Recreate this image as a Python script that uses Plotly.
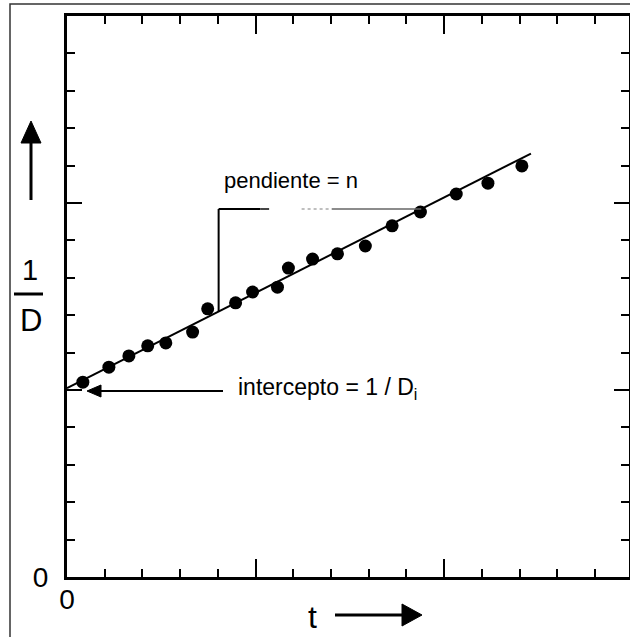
import plotly.graph_objects as go

# ---- data (arbitrary units: one minor tick = 1) ----
t_vals = [0.42, 1.11, 1.64, 2.14, 2.62, 3.33, 3.73, 4.47, 4.92, 5.58,
          5.87, 6.51, 7.17, 7.91, 8.62, 9.37, 10.32, 11.16, 12.06]
invD_vals = [5.21, 5.61, 5.91, 6.18, 6.26, 6.55, 7.17, 7.33, 7.62, 7.75,
             8.26, 8.50, 8.64, 8.85, 9.39, 9.76, 10.24, 10.53, 10.99]
fit_intercept = 5.05
fit_slope = 0.51
fit_t = [0.0, 12.3]
fit_y = [fit_intercept + fit_slope * t for t in fit_t]

x_major = [0, 5, 10, 15]
x_major_text = ["0", "", "", ""]
y_major = [0, 5, 10, 15]
y_major_text = ["0", "", "", ""]

slope_t0 = 4.02
slope_top = 9.84

W, H = 630, 637
ML, MR, MT, MB = 67, 1, 16, 60
PW, PH = W - ML - MR, H - MT - MB

def px(x):  # pixel -> paper x
    return (x - ML) / PW

def py(y):  # pixel -> paper y
    return (H - MB - y) / PH

fig = go.Figure()
fig.add_trace(go.Scatter(x=fit_t, y=fit_y, mode="lines",
                         line=dict(color="black", width=2), showlegend=False))
fig.add_trace(go.Scatter(x=t_vals, y=invD_vals, mode="markers",
                         marker=dict(color="black", size=13), showlegend=False))

shapes = []
# slope construction lines
y_at_t0 = fit_intercept + fit_slope * slope_t0
t_hit = (slope_top - fit_intercept) / fit_slope
shapes.append(dict(type="line", xref="x", yref="y", x0=slope_t0, x1=slope_t0,
                   y0=y_at_t0, y1=slope_top, line=dict(color="black", width=2)))
shapes.append(dict(type="line", xref="x", yref="y", x0=slope_t0, x1=slope_t0 + 1.1,
                   y0=slope_top, y1=slope_top, line=dict(color="black", width=2)))
shapes.append(dict(type="line", xref="x", yref="y", x0=slope_t0 + 1.1, x1=slope_t0 + 1.5,
                   y0=slope_top, y1=slope_top, line=dict(color="#444", width=2, dash="dash")))
shapes.append(dict(type="line", xref="x", yref="y", x0=slope_t0 + 2.2, x1=slope_t0 + 3.0,
                   y0=slope_top, y1=slope_top, line=dict(color="#aaa", width=1.5, dash="dot")))
shapes.append(dict(type="line", xref="x", yref="y", x0=slope_t0 + 3.0, x1=t_hit,
                   y0=slope_top, y1=slope_top, line=dict(color="#666", width=1.5)))

# intercept arrow (pixel-placed annotation graphics)
shapes.append(dict(type="line", xref="paper", yref="paper", x0=px(98), x1=px(223),
                   y0=py(391), y1=py(391), line=dict(color="black", width=2)))
shapes.append(dict(type="path", xref="paper", yref="paper",
                   path=f"M {px(87)} {py(391)} L {px(101)} {py(385)} L {px(101)} {py(397)} Z",
                   fillcolor="black", line=dict(color="black", width=1)))

# y axis title arrow (up)
shapes.append(dict(type="line", xref="paper", yref="paper", x0=px(31), x1=px(31),
                   y0=py(200), y1=py(140), line=dict(color="black", width=3)))
shapes.append(dict(type="path", xref="paper", yref="paper",
                   path=f"M {px(31)} {py(121)} L {px(21)} {py(143)} L {px(41)} {py(143)} Z",
                   fillcolor="black", line=dict(color="black", width=1)))
# fraction bar
shapes.append(dict(type="line", xref="paper", yref="paper", x0=px(14), x1=px(43),
                   y0=py(294), y1=py(294), line=dict(color="black", width=3)))

# x axis title arrow (right)
shapes.append(dict(type="line", xref="paper", yref="paper", x0=px(335), x1=px(405),
                   y0=py(615), y1=py(615), line=dict(color="black", width=3)))
shapes.append(dict(type="path", xref="paper", yref="paper",
                   path=f"M {px(422)} {py(615)} L {px(402)} {py(604)} L {px(402)} {py(626)} Z",
                   fillcolor="black", line=dict(color="black", width=1)))

# outer frame of the picture
shapes.append(dict(type="rect", xref="paper", yref="paper", x0=px(10), x1=px(640),
                   y0=py(4), y1=py(650), line=dict(color="#333", width=1.5)))

font = "Liberation Sans, Arial, sans-serif"
annotations = [
    dict(text="pendiente = n", xref="paper", yref="paper", x=px(222), y=py(181),
         xanchor="left", yanchor="middle", showarrow=False,
         font=dict(family=font, size=22, color="black")),
    dict(text="intercepto = 1 / D<sub>i</sub>", xref="paper", yref="paper", x=px(236), y=py(389),
         xanchor="left", yanchor="middle", showarrow=False,
         font=dict(family=font, size=23, color="black")),
    dict(text="1", xref="paper", yref="paper", x=px(30), y=py(270),
         xanchor="center", yanchor="middle", showarrow=False,
         font=dict(family=font, size=29, color="black")),
    dict(text="D", xref="paper", yref="paper", x=px(31), y=py(320),
         xanchor="center", yanchor="middle", showarrow=False,
         font=dict(family=font, size=31, color="black")),
    dict(text="t", xref="paper", yref="paper", x=px(312), y=py(617),
         xanchor="center", yanchor="middle", showarrow=False,
         font=dict(family=font, size=32, color="black")),
]

axis_common = dict(
    showgrid=False, zeroline=False, showline=True, linecolor="black", linewidth=3,
    mirror="ticks", ticks="inside", tickcolor="black", tickwidth=2,
    tickmode="array", tickfont=dict(family=font, size=28, color="black"),
    automargin=False,
)

fig.update_layout(
    width=W, height=H, autosize=False,
    margin=dict(l=ML, r=MR, t=MT, b=MB),
    paper_bgcolor="white", plot_bgcolor="white",
    xaxis=dict(range=[0, 14.9], tickvals=x_major, ticktext=x_major_text, ticklen=18,
               ticklabelstandoff=-5,
               minor=dict(dtick=1, tick0=0, ticklen=8, tickwidth=2, ticks="inside",
                          tickcolor="black", showgrid=False),
               **axis_common),
    yaxis=dict(range=[0, 15], tickvals=y_major, ticktext=y_major_text, ticklen=15,
               ticklabelstandoff=10,
               minor=dict(dtick=1, tick0=0, ticklen=8, tickwidth=2, ticks="inside",
                          tickcolor="black", showgrid=False),
               **axis_common),
    shapes=shapes, annotations=annotations,
)

fig.write_html("out.html", config={"displayModeBar": False},
               post_script="document.body.style.margin='0';")
